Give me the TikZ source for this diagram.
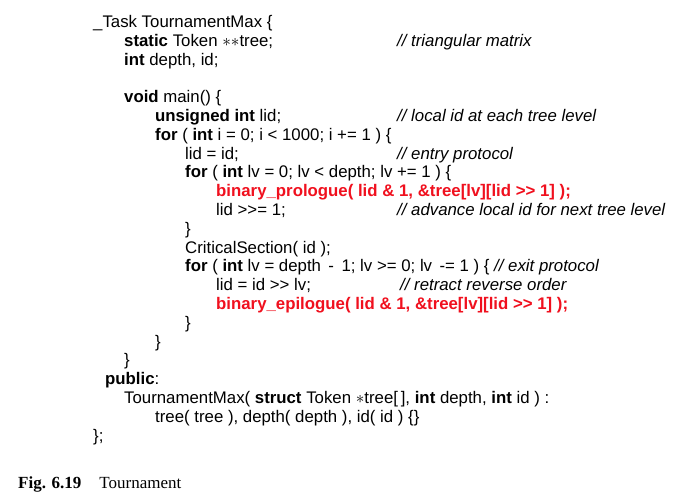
\documentclass[tikz,border=0pt]{standalone}
\usepackage{fontspec}
\setmainfont{Liberation Sans}
\newfontfamily\capfont{Liberation Serif}
\definecolor{codered}{RGB}{240,16,30}
\begin{document}
\begin{tikzpicture}[x=1pt,y=-1pt,
  code/.style={anchor=base west, inner sep=0pt, font=\fontsize{16.8}{19}\selectfont},
  cmt/.style={code, font=\fontsize{16.8}{19}\selectfont\itshape},
  hot/.style={code, font=\fontsize{16.8}{19}\selectfont\bfseries, text=codered},
  capt/.style={anchor=base west, inner sep=0pt, font=\fontsize{17}{20}\selectfont\capfont}]
\useasboundingbox (0,0) rectangle (696,501);
\def\ls{18.8}
\def\yy#1{27.5+#1*\ls}
\def\gg{>{}>}
\node[code] (l0) at (93,{\yy{0}}) {\_Task TournamentMax \{};
\node[code] (l1) at (124,{\yy{1}}) {\textbf{static} Token $\ast\ast$tree;};
\node[cmt] (c1) at (397,{\yy{1}}) {// triangular matrix};
\node[code] (l2) at (124,{\yy{2}}) {\textbf{int} depth, id;};
\node[code] (l4) at (124,{\yy{4}}) {\textbf{void} main() \{};
\node[code] (l5) at (155,{\yy{5}}) {\textbf{unsigned int} lid;};
\node[cmt] (c5) at (397,{\yy{5}}) {// local id at each tree level};
\node[code] (l6) at (155,{\yy{6}}) {\textbf{for} ( \textbf{int} i = 0; i < 1000; i += 1 ) \{};
\node[code] (l7) at (185,{\yy{7}}) {lid = id;};
\node[cmt] (c7) at (397,{\yy{7}}) {// entry protocol};
\node[code] (l8) at (185,{\yy{8}}) {\textbf{for} ( \textbf{int} lv = 0; lv < depth; lv += 1 ) \{};
\node[hot] (l9) at (216,{\yy{9}}) {binary\_prologue( lid \& 1, \&tree[lv][lid \gg{} 1] );};
\node[code] (l10) at (216,{\yy{10}}) {lid \gg= 1;};
\node[cmt] (c10) at (397,{\yy{10}}) {// advance local id for next tree level};
\node[code] (l11) at (185,{\yy{11}}) {\}};
\node[code] (l12) at (185,{\yy{12}}) {CriticalSection( id );};
\node[code] (l13) at (185,{\yy{13}}) {\textbf{for} ( \textbf{int} lv = depth \,-\, 1; lv >= 0; lv \,-= 1 ) \{ \textit{// exit protocol}};
\node[code] (l14) at (216,{\yy{14}}) {lid = id \gg{} lv;};
\node[cmt] (c14) at (400,{\yy{14}}) {// retract reverse order};
\node[hot] (l15) at (216,{\yy{15}}) {binary\_epilogue( lid \& 1, \&tree[lv][lid \gg{} 1] );};
\node[code] (l16) at (185,{\yy{16}}) {\}};
\node[code] (l17) at (155,{\yy{17}}) {\}};
\node[code] (l18) at (124,{\yy{18}}) {\}};
\node[code] (l19) at (105,{\yy{19}}) {\textbf{public}:};
\node[code] (l20) at (124,{\yy{20}}) {TournamentMax( \textbf{struct} Token $\ast$tree[\,], \textbf{int} depth, \textbf{int} id ) :};
\node[code] (l21) at (155,{\yy{21}}) {tree( tree ), depth( depth ), id( id ) \{\}};
\node[code] (l22) at (93,{\yy{22}}) {\};};
\node[capt] (cap) at (18,488) {\textbf{Fig. 6.19}\hspace{18pt}Tournament};
\end{tikzpicture}
\end{document}
